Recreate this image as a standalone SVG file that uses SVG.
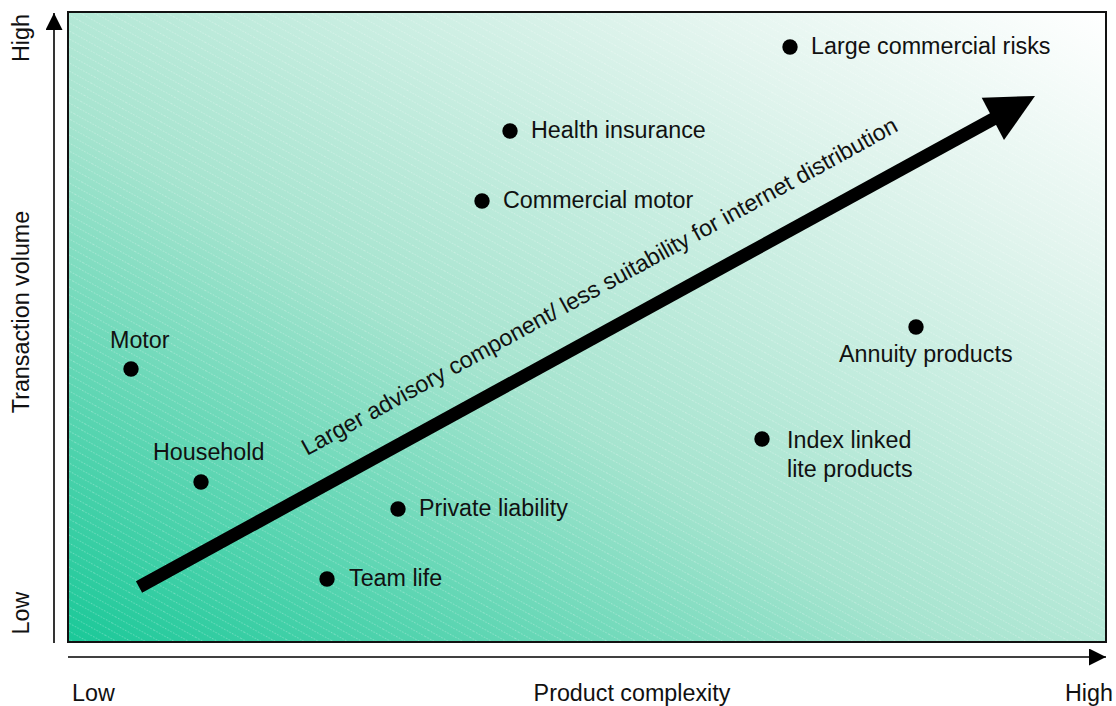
<svg xmlns="http://www.w3.org/2000/svg" width="1116" height="706" viewBox="0 0 1116 706">
  <defs>
    <linearGradient id="fieldFill" x1="0" y1="1" x2="1" y2="0">
      <stop offset="0" stop-color="#1ac898"/>
      <stop offset="0.42" stop-color="#a6e4cf"/>
      <stop offset="0.8" stop-color="#e4f5ef"/>
      <stop offset="1" stop-color="#ffffff"/>
    </linearGradient>
    <pattern id="hatch" width="40" height="7" patternUnits="userSpaceOnUse" patternTransform="rotate(29)">
      <line x1="0" y1="0.5" x2="40" y2="0.5" stroke="#ffffff" stroke-width="0.8" stroke-dasharray="1.5 1.5" stroke-opacity="0.35"/>
    </pattern>
    <marker id="axisHead" viewBox="0 0 10 10" refX="10" refY="5" markerWidth="17" markerHeight="17" markerUnits="userSpaceOnUse" orient="auto">
      <path d="M0,0 L10,5 L0,10 Z" fill="#000"/>
    </marker>
    <style>
      .lbl { font-family: "Liberation Sans", Arial, sans-serif; font-size: 23.3px; fill: #111; }
      .dot { fill: #000; }
      .axis { stroke: #000; stroke-width: 1.6; fill: none; }
    </style>
  </defs>

  <!-- plot field -->
  <g id="field">
    <rect x="68" y="12" width="1038" height="630" fill="url(#fieldFill)"/>
    <rect x="68" y="12" width="1038" height="630" fill="url(#hatch)"/>
    <rect x="68" y="12" width="1038" height="630" fill="none" stroke="#111" stroke-width="2"/>
  </g>

  <!-- axes -->
  <g id="axes">
    <line class="axis" x1="54" y1="643" x2="54" y2="13" marker-end="url(#axisHead)"/>
    <line class="axis" x1="68" y1="657" x2="1106" y2="657" marker-end="url(#axisHead)"/>
    <text class="lbl" x="72" y="701">Low</text>
    <text class="lbl" x="632" y="701" text-anchor="middle">Product complexity</text>
    <text class="lbl" x="1065" y="701">High</text>
    <text class="lbl" transform="translate(29,38) rotate(-90)" text-anchor="middle">High</text>
    <text class="lbl" transform="translate(29,312) rotate(-90)" text-anchor="middle">Transaction volume</text>
    <text class="lbl" transform="translate(29,613) rotate(-90)" text-anchor="middle">Low</text>
  </g>

  <!-- trend arrow -->
  <g id="connectors">
    <line x1="139" y1="587" x2="995" y2="118" stroke="#000" stroke-width="13"/>
    <polygon points="981.7,97.7 1035,96 1004,140" fill="#000"/>
    <text class="lbl" transform="translate(307,456) rotate(-28.8)">Larger advisory component/ less suitability for internet distribution</text>
  </g>

  <!-- product nodes -->
  <g id="large-commercial-risks">
    <circle class="dot" cx="790" cy="47" r="7.7"/>
    <text class="lbl" x="811" y="54">Large commercial risks</text>
  </g>
  <g id="health-insurance">
    <circle class="dot" cx="510" cy="131" r="7.7"/>
    <text class="lbl" x="531" y="138">Health insurance</text>
  </g>
  <g id="commercial-motor">
    <circle class="dot" cx="482" cy="201" r="7.7"/>
    <text class="lbl" x="503" y="208">Commercial motor</text>
  </g>
  <g id="motor">
    <circle class="dot" cx="131" cy="369" r="7.7"/>
    <text class="lbl" x="110" y="348">Motor</text>
  </g>
  <g id="household">
    <circle class="dot" cx="201" cy="482" r="7.7"/>
    <text class="lbl" x="153" y="460">Household</text>
  </g>
  <g id="private-liability">
    <circle class="dot" cx="398" cy="509" r="7.7"/>
    <text class="lbl" x="419" y="516">Private liability</text>
  </g>
  <g id="team-life">
    <circle class="dot" cx="327" cy="579" r="7.7"/>
    <text class="lbl" x="349" y="586">Team life</text>
  </g>
  <g id="annuity-products">
    <circle class="dot" cx="916" cy="327" r="7.7"/>
    <text class="lbl" x="839" y="362">Annuity products</text>
  </g>
  <g id="index-linked">
    <circle class="dot" cx="762" cy="439" r="7.7"/>
    <text class="lbl" x="787" y="448">Index linked</text>
    <text class="lbl" x="787" y="477">lite products</text>
  </g>
</svg>
